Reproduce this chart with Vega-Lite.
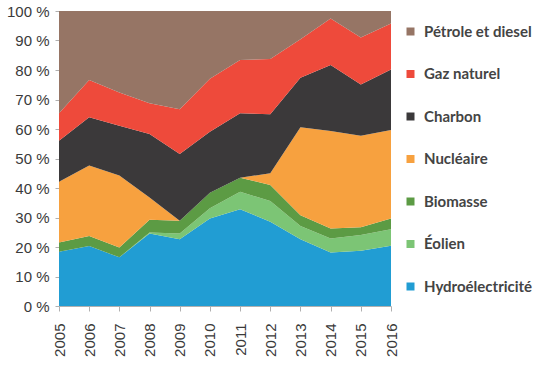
{
  "$schema": "https://vega.github.io/schema/vega-lite/v6.json",
  "width": 332,
  "height": 295,
  "autosize": "none",
  "padding": {"left": 59, "top": 11, "right": 157, "bottom": 74},
  "background": "white",
  "data": {
    "values": [
      {"annee": 2005, "source": "Hydroélectricité", "part": 18.4},
      {"annee": 2005, "source": "Éolien", "part": 0},
      {"annee": 2005, "source": "Biomasse", "part": 3.1},
      {"annee": 2005, "source": "Nucléaire", "part": 20.6},
      {"annee": 2005, "source": "Charbon", "part": 13.9},
      {"annee": 2005, "source": "Gaz naturel", "part": 9.3},
      {"annee": 2005, "source": "Pétrole et diesel", "part": 34.7},
      {"annee": 2006, "source": "Hydroélectricité", "part": 20.3},
      {"annee": 2006, "source": "Éolien", "part": 0},
      {"annee": 2006, "source": "Biomasse", "part": 3.4},
      {"annee": 2006, "source": "Nucléaire", "part": 23.9},
      {"annee": 2006, "source": "Charbon", "part": 16.4},
      {"annee": 2006, "source": "Gaz naturel", "part": 12.6},
      {"annee": 2006, "source": "Pétrole et diesel", "part": 23.4},
      {"annee": 2007, "source": "Hydroélectricité", "part": 16.5},
      {"annee": 2007, "source": "Éolien", "part": 0},
      {"annee": 2007, "source": "Biomasse", "part": 3.3},
      {"annee": 2007, "source": "Nucléaire", "part": 24.4},
      {"annee": 2007, "source": "Charbon", "part": 16.9},
      {"annee": 2007, "source": "Gaz naturel", "part": 11.3},
      {"annee": 2007, "source": "Pétrole et diesel", "part": 27.6},
      {"annee": 2008, "source": "Hydroélectricité", "part": 24.6},
      {"annee": 2008, "source": "Éolien", "part": 0.3},
      {"annee": 2008, "source": "Biomasse", "part": 4.3},
      {"annee": 2008, "source": "Nucléaire", "part": 7.6},
      {"annee": 2008, "source": "Charbon", "part": 21.5},
      {"annee": 2008, "source": "Gaz naturel", "part": 10.4},
      {"annee": 2008, "source": "Pétrole et diesel", "part": 31.3},
      {"annee": 2009, "source": "Hydroélectricité", "part": 22.6},
      {"annee": 2009, "source": "Éolien", "part": 2.0},
      {"annee": 2009, "source": "Biomasse", "part": 4.3},
      {"annee": 2009, "source": "Nucléaire", "part": 0},
      {"annee": 2009, "source": "Charbon", "part": 22.6},
      {"annee": 2009, "source": "Gaz naturel", "part": 15.2},
      {"annee": 2009, "source": "Pétrole et diesel", "part": 33.3},
      {"annee": 2010, "source": "Hydroélectricité", "part": 29.7},
      {"annee": 2010, "source": "Éolien", "part": 3.4},
      {"annee": 2010, "source": "Biomasse", "part": 5.3},
      {"annee": 2010, "source": "Nucléaire", "part": 0},
      {"annee": 2010, "source": "Charbon", "part": 20.7},
      {"annee": 2010, "source": "Gaz naturel", "part": 17.9},
      {"annee": 2010, "source": "Pétrole et diesel", "part": 23.0},
      {"annee": 2011, "source": "Hydroélectricité", "part": 32.8},
      {"annee": 2011, "source": "Éolien", "part": 5.9},
      {"annee": 2011, "source": "Biomasse", "part": 4.8},
      {"annee": 2011, "source": "Nucléaire", "part": 0},
      {"annee": 2011, "source": "Charbon", "part": 21.8},
      {"annee": 2011, "source": "Gaz naturel", "part": 18.1},
      {"annee": 2011, "source": "Pétrole et diesel", "part": 16.6},
      {"annee": 2012, "source": "Hydroélectricité", "part": 28.6},
      {"annee": 2012, "source": "Éolien", "part": 7.0},
      {"annee": 2012, "source": "Biomasse", "part": 5.4},
      {"annee": 2012, "source": "Nucléaire", "part": 4.0},
      {"annee": 2012, "source": "Charbon", "part": 20.0},
      {"annee": 2012, "source": "Gaz naturel", "part": 18.7},
      {"annee": 2012, "source": "Pétrole et diesel", "part": 16.3},
      {"annee": 2013, "source": "Hydroélectricité", "part": 22.6},
      {"annee": 2013, "source": "Éolien", "part": 4.5},
      {"annee": 2013, "source": "Biomasse", "part": 3.7},
      {"annee": 2013, "source": "Nucléaire", "part": 29.8},
      {"annee": 2013, "source": "Charbon", "part": 16.8},
      {"annee": 2013, "source": "Gaz naturel", "part": 13.0},
      {"annee": 2013, "source": "Pétrole et diesel", "part": 9.6},
      {"annee": 2014, "source": "Hydroélectricité", "part": 18.1},
      {"annee": 2014, "source": "Éolien", "part": 4.8},
      {"annee": 2014, "source": "Biomasse", "part": 3.4},
      {"annee": 2014, "source": "Nucléaire", "part": 33.0},
      {"annee": 2014, "source": "Charbon", "part": 22.4},
      {"annee": 2014, "source": "Gaz naturel", "part": 15.8},
      {"annee": 2014, "source": "Pétrole et diesel", "part": 2.5},
      {"annee": 2015, "source": "Hydroélectricité", "part": 18.7},
      {"annee": 2015, "source": "Éolien", "part": 5.4},
      {"annee": 2015, "source": "Biomasse", "part": 2.6},
      {"annee": 2015, "source": "Nucléaire", "part": 31.0},
      {"annee": 2015, "source": "Charbon", "part": 17.4},
      {"annee": 2015, "source": "Gaz naturel", "part": 15.9},
      {"annee": 2015, "source": "Pétrole et diesel", "part": 9.0},
      {"annee": 2016, "source": "Hydroélectricité", "part": 20.4},
      {"annee": 2016, "source": "Éolien", "part": 5.6},
      {"annee": 2016, "source": "Biomasse", "part": 3.7},
      {"annee": 2016, "source": "Nucléaire", "part": 30.0},
      {"annee": 2016, "source": "Charbon", "part": 20.5},
      {"annee": 2016, "source": "Gaz naturel", "part": 15.6},
      {"annee": 2016, "source": "Pétrole et diesel", "part": 4.2}
    ]
  },
  "transform": [
    {"calculate": "indexof(['Hydroélectricité', 'Éolien', 'Biomasse', 'Nucléaire', 'Charbon', 'Gaz naturel', 'Pétrole et diesel'], datum.source)", "as": "rang"}
  ],
  "mark": {"type": "area", "opacity": 1, "interpolate": "linear"},
  "encoding": {
    "x": {
      "field": "annee",
      "type": "quantitative",
      "scale": {"domain": [2005, 2016], "nice": false, "zero": false},
      "axis": {
        "title": null,
        "values": [2005, 2006, 2007, 2008, 2009, 2010, 2011, 2012, 2013, 2014, 2015, 2016],
        "format": "d",
        "labelAngle": -90,
        "labelAlign": "right",
        "labelBaseline": "middle",
        "labelFont": "Liberation Sans",
        "labelFontSize": 15,
        "labelColor": "#3a3a3a",
        "labelPadding": 12,
        "domainColor": "#b0b0b0",
        "tickColor": "#b0b0b0",
        "tickSize": 5,
        "grid": false,
        "labelFlush": false,
        "labelOverlap": false
      }
    },
    "y": {
      "field": "part",
      "type": "quantitative",
      "stack": "zero",
      "scale": {"domain": [0, 100], "nice": false},
      "axis": {
        "title": null,
        "values": [0, 10, 20, 30, 40, 50, 60, 70, 80, 90, 100],
        "labelExpr": "datum.value + ' %'",
        "labelFont": "Liberation Sans",
        "labelFontSize": 15,
        "labelColor": "#3a3a3a",
        "labelPadding": 6,
        "domainColor": "#b0b0b0",
        "tickColor": "#b0b0b0",
        "tickSize": 4,
        "grid": false
      }
    },
    "order": {"field": "rang", "type": "quantitative", "sort": "ascending"},
    "color": {
      "field": "source",
      "type": "nominal",
      "scale": {
        "domain": ["Hydroélectricité", "Éolien", "Biomasse", "Nucléaire", "Charbon", "Gaz naturel", "Pétrole et diesel"],
        "range": ["#219dd3", "#7cc575", "#5c9b44", "#f7a13f", "#3b393a", "#ee4a3b", "#967565"]
      },
      "legend": {
        "title": null,
        "values": ["Pétrole et diesel", "Gaz naturel", "Charbon", "Nucléaire", "Biomasse", "Éolien", "Hydroélectricité"],
        "orient": "none",
        "legendX": 344,
        "legendY": 13,
        "symbolType": "square",
        "symbolSize": 64,
        "symbolStrokeWidth": 0,
        "labelFont": "Lato",
        "labelFontWeight": "bold",
        "labelFontSize": 15,
        "labelColor": "#444444",
        "labelOffset": 6,
        "rowPadding": 26.5,
        "labelLimit": 200
      }
    }
  },
  "config": {
    "view": {"stroke": null}
  }
}
